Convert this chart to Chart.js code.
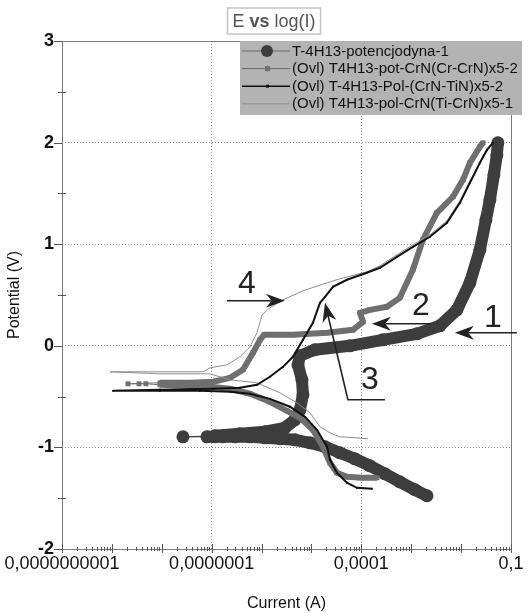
<!DOCTYPE html>
<html>
<head>
<meta charset="utf-8">
<script src="https://cdn.jsdelivr.net/npm/chart.js@4.4.0/dist/chart.umd.min.js"></script>
<style>
  html, body { margin: 0; padding: 0; background: #fff; }
</style>
</head>
<body>
<canvas id="chart" width="530" height="613"></canvas>
<script>
// --- data: current (A) and potential (V) ---
const seriesNames = [
  'T-4H13-potencjodyna-1',
  '(Ovl) T4H13-pot-CrN(Cr-CrN)x5-2',
  '(Ovl) T-4H13-Pol-(CrN-TiN)x5-2',
  '(Ovl) T4H13-pol-CrN(Ti-CrN)x5-1'
];

const curr1 = [2.07e-3, 1.19e-3, 5.9e-4, 2.97e-4, 1.49e-4, 7.4e-5, 3.7e-5, 1.87e-5, 9.3e-6, 4.67e-6,
  2.34e-6, 1.17e-6, 5.86e-7, 2.93e-7, 1.68e-7, 1.16e-7, 8.05e-8, 2.66e-8, 1.16e-7, 3.69e-7,
  1.17e-6, 2.94e-6, 4.67e-6, 5.89e-6, 6.76e-6, 6.46e-6, 5.36e-6, 5.89e-6, 1.17e-5, 5.9e-5,
  2.71e-4, 1.30e-3, 3.76e-3, 8.24e-3, 0.0150, 0.0238, 0.0314, 0.0378, 0.0454, 0.0521, 0.0546];
const pot1 = [-1.476, -1.417, -1.339, -1.260, -1.181, -1.112, -1.053, -0.994, -0.955, -0.925,
  -0.915, -0.906, -0.896, -0.896, -0.896, -0.896, -0.896, -0.896, -0.886, -0.866,
  -0.846, -0.807, -0.728, -0.630, -0.482, -0.335, -0.187, -0.098, -0.039, 0.0,
  0.059, 0.118, 0.197, 0.354, 0.620, 0.945, 1.240, 1.437, 1.683, 1.880, 1.998];

const curr2 = [2.06e-4, 1.03e-4, 5.14e-5, 3.24e-5, 2.35e-5, 1.70e-5, 1.07e-5, 5.89e-6, 3.23e-6, 1.47e-6,
  5.86e-7, 2.33e-7, 9.25e-8, 2.92e-8, 9.2e-9, 4.8e-9, 3.5e-9, 2.1e-9, 9.2e-9, 3.67e-8,
  1.06e-7, 2.33e-7, 4.24e-7, 6.73e-7, 9.3e-7, 1.12e-6, 4.26e-6, 2.05e-5, 6.79e-5, 1.08e-4,
  9.4e-5, 1.49e-4, 3.26e-4, 5.9e-4, 1.08e-3, 1.71e-3, 3.27e-3, 6.86e-3, 0.0109, 0.0150,
  0.0238, 0.0274];
const pot2 = [-1.299, -1.299, -1.289, -1.250, -1.152, -0.994, -0.827, -0.709, -0.640, -0.551,
  -0.472, -0.423, -0.404, -0.394, -0.384, -0.374, -0.374, -0.374, -0.364, -0.364,
  -0.354, -0.315, -0.236, -0.069, 0.059, 0.108, 0.108, 0.128, 0.157, 0.236,
  0.325, 0.354, 0.384, 0.472, 0.748, 1.043, 1.309, 1.467, 1.634, 1.801,
  1.959, 1.998];

const curr3 = [1.63e-4, 8.17e-5, 5.14e-5, 3.24e-5, 2.35e-5, 2.05e-5, 1.29e-5, 7.41e-6, 3.71e-6, 1.47e-6,
  5.86e-7, 2.33e-7, 5.83e-8, 9.2e-9, 1.05e-9, 9.2e-9, 1.06e-7, 3.69e-7, 8.1e-7, 1.47e-6,
  2.69e-6, 4.26e-6, 6.76e-6, 1.07e-5, 1.48e-5, 1.87e-5, 2.70e-5, 5.14e-5, 1.29e-4, 2.36e-4,
  5.16e-4, 1.08e-3, 2.37e-3, 5.19e-3, 9.46e-3, 0.0150, 0.0238, 0.0329, 0.0434];
const pot3 = [-1.407, -1.398, -1.348, -1.250, -1.122, -0.994, -0.827, -0.699, -0.600, -0.522,
  -0.472, -0.453, -0.443, -0.443, -0.443, -0.433, -0.423, -0.413, -0.384, -0.305,
  -0.207, -0.108, 0.059, 0.226, 0.423, 0.482, 0.581, 0.650, 0.719, 0.768,
  0.876, 0.974, 1.073, 1.211, 1.407, 1.604, 1.801, 1.929, 1.998];

const curr4 = [1.36e-4, 8.17e-5, 3.7e-5, 2.35e-5, 1.48e-5, 9.3e-6, 5.12e-6, 2.34e-6, 8.1e-7, 2.33e-7,
  9.25e-8, 9.2e-9, 9.2e-10, 9.2e-9, 6.7e-8, 9.25e-8, 2.03e-7, 3.69e-7, 5.86e-7, 8.1e-7,
  1.02e-6, 1.47e-6, 2.69e-6, 6.76e-6, 2.05e-5, 3.7e-5, 1.29e-4, 2.36e-4, 5.16e-4, 1.08e-3,
  2.37e-3, 5.19e-3, 9.46e-3, 0.0150, 0.0261, 0.0378, 0.0416];
const pot4 = [-0.915, -0.906, -0.896, -0.856, -0.797, -0.659, -0.561, -0.463, -0.364, -0.335,
  -0.276, -0.276, -0.256, -0.256, -0.256, -0.217, -0.187, -0.108, -0.010, 0.128,
  0.305, 0.374, 0.453, 0.541, 0.620, 0.659, 0.728, 0.787, 0.896, 0.994,
  1.093, 1.230, 1.427, 1.624, 1.831, 1.959, 1.978];

// axis labels
const xLabelDecades = [-10, -7, -4, -1];
const xGridDecades = [-7, -4];
const yMin = -2, yMax = 3;

// numbered arrows (last point of each path is the arrow head)
const markNames = ['1', '2', '3', '4'];
const markCurr = [0.0434, 1.56e-3, 1.49e-4, 5.1e-7];
const markPot = [0.276, 0.394, -0.335, 0.610];
const arrowCurr = [[0.131, 7.5e-3], [2.48e-3, 1.63e-4], [2.97e-4, 5.38e-5, 1.87e-5], [2.03e-7, 2.94e-6]];
const arrowPot = [[0.128, 0.128], [0.217, 0.217], [-0.531, -0.531, 0.423], [0.443, 0.443]];

const FONT = '"Liberation Sans", Arial, sans-serif';
const colors = ['#3d3d3d', '#6f6f6f', '#111111', '#8e8e8e'];

function pts(xs, ys) {
  return xs.map((x, i) => ({ x: x, y: ys[i] }));
}

const datasets = [
  {
    label: seriesNames[0],
    data: pts(curr1, pot1),
    showLine: true,
    borderColor: colors[0],
    backgroundColor: colors[0],
    borderWidth: 12,
    borderJoinStyle: 'round',
    borderCapStyle: 'round',
    pointRadius: 6.5,
    pointBorderWidth: 0,
    order: 4,
    segment: { borderWidth: ctx => (ctx.p0DataIndex === 16 || ctx.p0DataIndex === 17) ? 1 : 12 }
  },
  {
    label: seriesNames[1],
    data: pts(curr2, pot2),
    showLine: true,
    borderColor: colors[1],
    backgroundColor: colors[1],
    borderWidth: 6,
    borderJoinStyle: 'round',
    pointStyle: 'rect',
    pointRadius: 3.5,
    pointBorderWidth: 0,
    order: 3,
    segment: { borderWidth: ctx => (ctx.p0DataIndex >= 14 && ctx.p0DataIndex <= 17) ? 1 : 6 }
  },
  {
    label: seriesNames[2],
    data: pts(curr3, pot3),
    showLine: true,
    borderColor: colors[2],
    backgroundColor: colors[2],
    borderWidth: 2,
    pointStyle: 'rect',
    pointRadius: 1.3,
    pointBorderWidth: 0,
    order: 1
  },
  {
    label: seriesNames[3],
    data: pts(curr4, pot4),
    showLine: true,
    borderColor: colors[3],
    backgroundColor: colors[3],
    borderWidth: 1,
    pointRadius: 0,
    order: 2
  }
];

// frame, ticks, arrows, legend and title box
const decorPlugin = {
  id: 'decor',
  afterDraw(chart) {
    const ctx = chart.ctx;
    const a = chart.chartArea;
    const xs = chart.scales.x, ys = chart.scales.y;
    ctx.save();

    // frame
    ctx.strokeStyle = '#7a7a7a';
    ctx.lineWidth = 1;
    ctx.strokeRect(a.left + 0.5, a.top + 0.5, a.right - a.left, a.bottom - a.top);

    // x ticks
    ctx.strokeStyle = '#555';
    ctx.beginPath();
    xs.ticks.forEach(t => {
      const px = Math.round(xs.getPixelForValue(t.value)) + 0.5;
      const lg = Math.log10(t.value);
      const major = Math.abs(lg - Math.round(lg)) < 1e-6;
      ctx.moveTo(px, a.bottom - (major ? 5 : 2));
      ctx.lineTo(px, a.bottom + (major ? 4 : 2));
    });
    // y ticks
    ys.ticks.forEach(t => {
      const py = Math.round(ys.getPixelForValue(t.value)) + 0.5;
      if (Number.isInteger(t.value)) {
        ctx.moveTo(a.left - 8, py);
        ctx.lineTo(a.left, py);
      } else {
        ctx.moveTo(a.left - 4, py);
        ctx.lineTo(a.left + 4, py);
      }
    });
    ctx.stroke();

    // numbered arrows
    ctx.strokeStyle = '#222';
    ctx.fillStyle = '#222';
    ctx.lineWidth = 1.6;
    arrowCurr.forEach((cs, k) => {
      const p = cs.map((c, i) => [xs.getPixelForValue(c), ys.getPixelForValue(arrowPot[k][i])]);
      const n = p.length;
      const [hx, hy] = p[n - 1];
      const [bx, by] = p[n - 2];
      const ang = Math.atan2(hy - by, hx - bx);
      const len = 19, wid = 7;
      ctx.beginPath();
      ctx.moveTo(p[0][0], p[0][1]);
      for (let i = 1; i < n - 1; i++) ctx.lineTo(p[i][0], p[i][1]);
      ctx.lineTo(hx - Math.cos(ang) * len * 0.7, hy - Math.sin(ang) * len * 0.7);
      ctx.stroke();
      ctx.beginPath();
      ctx.moveTo(hx, hy);
      ctx.lineTo(hx - Math.cos(ang) * len - Math.sin(ang) * wid, hy - Math.sin(ang) * len + Math.cos(ang) * wid);
      ctx.lineTo(hx - Math.cos(ang) * len * 0.7, hy - Math.sin(ang) * len * 0.7);
      ctx.lineTo(hx - Math.cos(ang) * len + Math.sin(ang) * wid, hy - Math.sin(ang) * len - Math.cos(ang) * wid);
      ctx.closePath();
      ctx.fill();
    });
    ctx.font = '32px ' + FONT;
    ctx.textAlign = 'center';
    ctx.textBaseline = 'middle';
    markNames.forEach((m, i) => {
      ctx.fillText(m, xs.getPixelForValue(markCurr[i]), ys.getPixelForValue(markPot[i]));
    });

    // legend box
    const lx = 240, ly = 41, lw = 282, lh = 74;
    ctx.fillStyle = '#b3b3b3';
    ctx.fillRect(lx, ly, lw, lh);
    ctx.font = '15px ' + FONT;
    ctx.textAlign = 'left';
    ctx.textBaseline = 'middle';
    chart.data.datasets.forEach((ds, i) => {
      const y = ly + 10 + i * 17.6;
      ctx.strokeStyle = i === 2 ? '#111' : (i === 3 ? '#8e8e8e' : '#6a6a6a');
      ctx.lineWidth = i === 2 ? 1.6 : 1;
      ctx.beginPath();
      ctx.moveTo(lx + 2, y);
      ctx.lineTo(lx + 50, y);
      ctx.stroke();
      ctx.fillStyle = colors[i];
      if (i === 0) {
        ctx.beginPath();
        ctx.arc(lx + 27, y, 6, 0, Math.PI * 2);
        ctx.fill();
      } else if (i === 1) {
        ctx.fillRect(lx + 25, y - 2.5, 5, 5);
      } else if (i === 2) {
        ctx.fillRect(lx + 26, y - 1.5, 3, 3);
      }
      ctx.fillStyle = '#111';
      ctx.fillText(ds.label, lx + 52, y + 0.5);
    });

    // title box: "E vs log(I)"
    const parts = [['E ', '18px '], ['vs', 'bold 18px '], [' log(I)', '18px ']];
    let tw = 0;
    parts.forEach(pr => { ctx.font = pr[1] + FONT; tw += ctx.measureText(pr[0]).width; });
    const tcx = 274, tcy = 21;
    ctx.strokeStyle = '#c4c4c4';
    ctx.lineWidth = 1.5;
    ctx.strokeRect(tcx - tw / 2 - 5, tcy - 13, tw + 10, 26);
    ctx.fillStyle = '#555';
    let tx = tcx - tw / 2;
    parts.forEach(pr => {
      ctx.font = pr[1] + FONT;
      ctx.fillText(pr[0], tx, tcy + 1);
      tx += ctx.measureText(pr[0]).width;
    });

    ctx.restore();
  }
};

new Chart(document.getElementById('chart').getContext('2d'), {
  type: 'scatter',
  data: { datasets: datasets },
  plugins: [decorPlugin],
  options: {
    responsive: false,
    animation: false,
    devicePixelRatio: 1,
    layout: { padding: { top: 41, right: 19, left: 0, bottom: 0 } },
    plugins: {
      legend: { display: false },
      title: { display: false },
      tooltip: { enabled: false }
    },
    scales: {
      x: {
        type: 'logarithmic',
        min: 1e-10,
        max: 0.1,
        afterFit: s => { s.height = 64; },
        afterBuildTicks: s => {
          const t = [];
          for (let e = -10; e <= -1; e++) {
            for (let m = 1; m <= 9; m++) {
              const v = m * Math.pow(10, e);
              if (v <= 0.1000001) t.push({ value: v });
            }
          }
          s.ticks = t;
        },
        ticks: {
          autoSkip: false,
          maxRotation: 0,
          padding: 4,
          color: '#111',
          font: { family: FONT, size: 18 },
          callback: v => {
            const lg = Math.round(Math.log10(v));
            if (Math.abs(Math.log10(v) - lg) > 1e-6 || !xLabelDecades.includes(lg)) return '';
            return Math.pow(10, lg).toFixed(-lg).replace('.', ',');
          }
        },
        grid: {
          drawTicks: false,
          lineWidth: 1,
          color: c => {
            const v = c.tick && c.tick.value;
            if (!v) return 'rgba(0,0,0,0)';
            const lg = Math.log10(v);
            return (Math.abs(lg - Math.round(lg)) < 1e-6 && xGridDecades.includes(Math.round(lg))) ? '#8a8a8a' : 'rgba(0,0,0,0)';
          }
        },
        border: { display: false, dash: [1, 2] },
        title: {
          display: true,
          text: 'Current (A)',
          color: '#111',
          font: { family: FONT, size: 16 },
          padding: { top: 0, bottom: 0 }
        }
      },
      y: {
        min: yMin,
        max: yMax,
        afterFit: s => { s.width = 62; },
        ticks: {
          stepSize: 0.5,
          padding: 8,
          color: '#111',
          font: { family: FONT, size: 18, weight: 'bold' },
          callback: v => Number.isInteger(v) ? String(v) : ''
        },
        grid: {
          drawTicks: false,
          lineWidth: 1,
          color: c => {
            const v = c.tick && c.tick.value;
            return (Number.isInteger(v) && v > yMin && v < yMax) ? '#8a8a8a' : 'rgba(0,0,0,0)';
          }
        },
        border: { display: false, dash: [1, 2] },
        title: {
          display: true,
          text: 'Potential (V)',
          color: '#111',
          font: { family: FONT, size: 16 },
          padding: { top: 5, bottom: 0 }
        }
      }
    }
  }
});
</script>
</body>
</html>
